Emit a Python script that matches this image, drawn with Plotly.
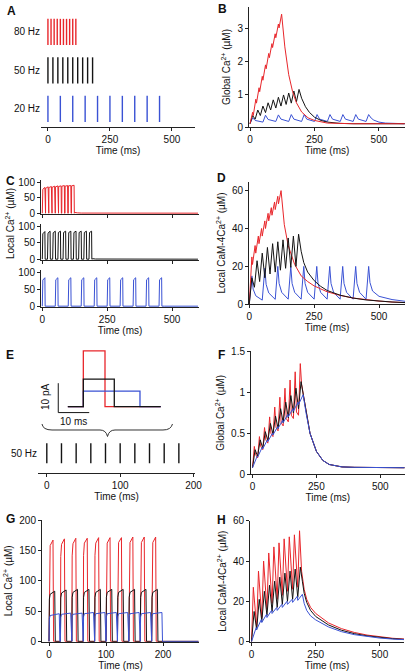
import plotly.graph_objects as go

W, H = 407, 671
FONT = "Liberation Sans, Arial, sans-serif"
RED, BLK, BLU = "#e8262b", "#141414", "#3a52d4"

# ---------------- data ----------------
T80 = [0, 12.5, 25, 37.5, 50, 62.5, 75, 87.5, 100, 112.5]
T50 = [0, 20, 40, 60, 80, 100, 120, 140, 160, 180]
T20 = [0, 50, 100, 150, 200, 250, 300, 350, 400, 450]
RATE_LABELS = ["20 Hz", "50 Hz", "80 Hz"]

# B: global Ca2+ (uM)
B_red_peak = [0.45, 0.85, 1.2, 1.55, 1.9, 2.25, 2.55, 2.85, 3.15, 3.45]
B_red_trough = [0.35, 0.73, 1.08, 1.43, 1.78, 2.12, 2.43, 2.73, 3.03]
B_red_tail_t = [135, 150, 165, 180, 200, 225, 250, 300, 400, 600]
B_red_tail_v = [2.45, 1.6, 1.08, 0.74, 0.46, 0.28, 0.2, 0.12, 0.1, 0.1]
B_blk_peak = [0.35, 0.52, 0.64, 0.74, 0.83, 0.91, 0.98, 1.04, 1.1, 1.15]
B_blk_trough = [0.24, 0.35, 0.44, 0.52, 0.58, 0.64, 0.69, 0.73, 0.77]
B_blk_tail_t = [200, 215, 230, 250, 275, 300, 350, 400, 600]
B_blk_tail_v = [0.88, 0.62, 0.45, 0.3, 0.2, 0.15, 0.11, 0.1, 0.1]
B_blu_peak = [0.28, 0.36, 0.37, 0.38, 0.38, 0.38, 0.38, 0.38, 0.38, 0.38]
B_blu_mid = [0.2, 0.23, 0.24, 0.24, 0.24, 0.24, 0.24, 0.24, 0.24]
B_blu_trough = [0.15, 0.17, 0.17, 0.17, 0.17, 0.17, 0.17, 0.17, 0.17]
B_blu_tail_t = [470, 480, 500, 525, 550, 600]
B_blu_tail_v = [0.27, 0.21, 0.15, 0.12, 0.11, 0.1]

# C: local Ca2+ (uM)
C_red_on = [78, 82, 84, 85, 86, 87, 88, 88, 89, 89]
C_red_off = [84, 86, 87, 88, 89, 89, 90, 90, 90, 91]
C_red_tail_t = [125, 135, 150, 600]
C_red_tail_v = [3, 1.8, 1, 0.7]
C_blk_on = [78, 80, 81, 82, 82, 82, 82, 82, 82, 82]
C_blk_off = [85, 86, 86, 86, 86, 86, 86, 86, 86, 86]
C_blk_tail_t = [195, 205, 600]
C_blk_tail_v = [2, 1, 0.5]
C_blu_on = [78, 79, 79, 79, 79, 79, 79, 79, 79, 79]
C_blu_off = [85, 85, 85, 85, 85, 85, 85, 85, 85, 85]
C_blu_tail_t = [470, 600]
C_blu_tail_v = [0.5, 0.5]

# D: local CaM-4Ca2+ (uM)
D_red_peak = [25, 31, 36, 40, 44, 48, 51, 54, 57, 60]
D_red_trough = [21, 27, 32, 36, 40, 44, 47, 50, 53]
D_red_tail_t = [135, 150, 175, 200, 225, 250, 300, 350, 400, 450, 500, 550, 600]
D_red_tail_v = [42, 31, 21, 15, 12, 9.7, 6.6, 4.7, 3.3, 2.4, 1.7, 1.2, 0.9]
D_blk_peak = [14, 23, 27, 30, 32, 33, 34, 35, 36, 37]
D_blk_trough = [9, 12, 14, 16, 17, 18, 19, 19.5, 20]
D_blk_tail_t = [200, 210, 225, 250, 275, 300, 350, 400, 450, 500, 550, 600]
D_blk_tail_v = [28, 22, 17, 12.5, 9.5, 7.3, 4.8, 3.3, 2.3, 1.7, 1.2, 0.9]
D_blu_peak = [15, 19, 20, 20, 20, 20, 20, 20, 20, 20]
D_blu_d5 = [8, 10.5, 11, 11, 11, 11, 11, 11, 11]
D_blu_d15 = [4.5, 6, 6.3, 6.3, 6.3, 6.3, 6.3, 6.3, 6.3]
D_blu_trough = [2.2, 2.6, 2.7, 2.7, 2.7, 2.7, 2.7, 2.7, 2.7]
D_blu_tail_t = [465, 475, 500, 550, 600]
D_blu_tail_v = [11.5, 7, 4.2, 2.5, 1.6]

# E: current pulses (pA) and 50 Hz train
E_pulse_t0, E_pulse_t1 = -5, 25
E_red_w, E_red_amp = 7, 19
E_blk_w, E_blk_amp = 10, 9.4
E_blu_w, E_blu_amp = 18.3, 5.3

# F: global Ca2+ with three pulse shapes (uM)
F_red_peak = [0.34, 0.46, 0.57, 0.7, 0.82, 0.94, 1.05, 1.15, 1.25, 1.35]
F_red_mid = [0.24, 0.34, 0.42, 0.5, 0.57, 0.63, 0.68, 0.72, 0.76]
F_red_trough = [0.2, 0.3, 0.38, 0.46, 0.53, 0.59, 0.64, 0.68, 0.72]
F_red_tail_t = [192, 200, 210, 225, 250, 275, 300, 350, 400, 600]
F_red_tail_v = [1.1, 0.95, 0.75, 0.5, 0.28, 0.17, 0.12, 0.09, 0.085, 0.08]
F_blk_peak = [0.3, 0.42, 0.52, 0.62, 0.71, 0.8, 0.88, 0.96, 1.05, 1.13]
F_blk_trough = [0.22, 0.32, 0.41, 0.49, 0.56, 0.63, 0.69, 0.75, 0.8]
F_blk_tail_t = [200, 210, 225, 250, 275, 300, 350, 400, 600]
F_blk_tail_v = [0.95, 0.76, 0.5, 0.28, 0.17, 0.12, 0.09, 0.085, 0.08]
F_blu_peak = [0.22, 0.33, 0.42, 0.5, 0.58, 0.66, 0.73, 0.8, 0.88, 0.97]
F_blu_trough = [0.21, 0.31, 0.4, 0.48, 0.56, 0.63, 0.7, 0.77, 0.85]
F_blu_tail_t = [210, 225, 250, 275, 300, 350, 400, 600]
F_blu_tail_v = [0.74, 0.5, 0.28, 0.17, 0.12, 0.09, 0.085, 0.08]
F_base = 0.08

# G: local Ca2+ with three pulse shapes (uM)
G_red_on1 = [138, 140, 141, 142, 142, 142, 142, 142, 142, 142]
G_red_on2 = [158, 160, 161, 162, 162, 162, 163, 163, 163, 163]
G_red_off = [167, 169, 170, 170, 171, 171, 171, 172, 172, 172]
G_blk_on1 = [70, 72, 73, 73, 73, 73, 73, 73, 73, 73]
G_blk_on2 = [78, 80, 81, 81, 81, 81, 81, 81, 81, 81]
G_blk_off = [83, 85, 86, 86, 86, 86, 86, 86, 86, 86]
G_blu_on1 = [38, 40, 41, 41, 41, 41, 41, 41, 41, 41]
G_blu_on2 = [43, 45, 45, 46, 46, 46, 46, 46, 46, 46]
G_blu_off = [46, 47, 47, 48, 48, 48, 48, 48, 48, 48]
G_tail_t = [205, 262]
G_tail_v = [0.5, 0.5]

# H: local CaM-4Ca2+ with three pulse shapes (uM)
H_red_peak = [27, 35, 40, 44, 47, 49, 51, 52, 53, 55]
H_red_trough = [7, 12, 16, 19, 21, 23, 25, 26, 27]
H_red_tail_t = [195, 205, 215, 230, 250, 300, 350, 400, 450, 500, 550, 600]
H_red_tail_v = [35, 26, 21, 17, 14, 9.3, 6.5, 4.6, 3.3, 2.4, 1.7, 1.3]
H_blk_peak = [15, 21, 25, 28, 30, 32, 34, 35, 36, 37]
H_blk_trough = [6, 10, 13, 15, 17, 18.5, 20, 21, 22]
H_blk_tail_t = [198, 205, 215, 230, 250, 300, 350, 400, 450, 500, 550, 600]
H_blk_tail_v = [30, 24, 19.5, 15.5, 12.5, 8.3, 5.7, 4, 2.9, 2.1, 1.5, 1.1]
H_blu_peak = [7, 11, 13.5, 15.5, 17, 18.5, 20, 21, 22.5, 23.5]
H_blu_trough = [6, 9.5, 12, 14, 15.5, 17, 18.5, 19.5, 20.5]
H_blu_tail_t = [205, 215, 230, 250, 300, 350, 400, 450, 500, 550, 600]
H_blu_tail_v = [19, 15.5, 12.8, 10.8, 7.3, 5, 3.5, 2.5, 1.8, 1.3, 1]


# ---------------- builders ----------------
def train(times, rise, start, peaks, troughs, tail_t, tail_v, after=()):
    xs, ys = [times[0]], [start]
    n = len(times)
    for i, t in enumerate(times):
        if i > 0:
            xs.append(t); ys.append(troughs[i - 1])
        xs.append(t + rise); ys.append(peaks[i])
        if i < n - 1:
            for dt, vals in after:
                xs.append(t + rise + dt); ys.append(vals[i])
    return xs + list(tail_t), ys + list(tail_v)


def pulses(times, w, on1, on2, off, tail_t, tail_v, base=0.5):
    xs, ys = [], []
    for i, t in enumerate(times):
        xs += [t, t + 0.6, t + 2, t + w, t + w + 1]
        ys += [base, on1[i], on2[i], off[i], base]
    return xs + list(tail_t), ys + list(tail_v)


def ticks(times, lo, hi):
    xs, ys = [], []
    for t in times:
        xs += [t, t, None]
        ys += [lo, hi, None]
    return xs, ys


fig = go.Figure()


def line(xy, color, xa, ya, width=1.0):
    fig.add_trace(go.Scatter(x=xy[0], y=xy[1], mode="lines",
                             line=dict(color=color, width=width),
                             xaxis=xa, yaxis=ya, hoverinfo="skip",
                             showlegend=False))


# A
line(ticks(T20, 0.66, 1.34), BLU, "x", "y", 1.4)
line(ticks(T50, 1.66, 2.34), BLK, "x", "y", 1.4)
line(ticks(T80, 2.66, 3.34), RED, "x", "y", 1.4)

# B
line(train(T20, 10, 0.1, B_blu_peak, B_blu_trough, B_blu_tail_t, B_blu_tail_v,
           after=[(10, B_blu_mid)]), BLU, "x2", "y2")
line(train(T50, 10, 0.1, B_blk_peak, B_blk_trough, B_blk_tail_t, B_blk_tail_v), BLK, "x2", "y2")
line(train(T80, 10, 0.1, B_red_peak, B_red_trough, B_red_tail_t, B_red_tail_v), RED, "x2", "y2")

# C
line(pulses(T80, 10, C_red_on, C_red_on, C_red_off, C_red_tail_t, C_red_tail_v), RED, "x3", "y3")
line(pulses(T50, 10, C_blk_on, C_blk_on, C_blk_off, C_blk_tail_t, C_blk_tail_v), BLK, "x4", "y4")
line(pulses(T20, 10, C_blu_on, C_blu_on, C_blu_off, C_blu_tail_t, C_blu_tail_v), BLU, "x5", "y5")

# D
line(train(T20, 10, 0, D_blu_peak, D_blu_trough, D_blu_tail_t, D_blu_tail_v,
           after=[(5, D_blu_d5), (15, D_blu_d15)]), BLU, "x6", "y6")
line(train(T80, 10, 0, D_red_peak, D_red_trough, D_red_tail_t, D_red_tail_v), RED, "x6", "y6")
line(train(T50, 10, 0, D_blk_peak, D_blk_trough, D_blk_tail_t, D_blk_tail_v), BLK, "x6", "y6")

# E inset (pulse shapes) and train
for w, amp, col in [(E_red_w, E_red_amp, RED), (E_blu_w, E_blu_amp, BLU), (E_blk_w, E_blk_amp, BLK)]:
    line(([E_pulse_t0, 0, 0, w, w, E_pulse_t1], [0, 0, amp, amp, 0, 0]), col, "x7", "y7", 1.3)
line(([-8.1, -8.1, 1.9], [8, -2, -2]), BLK, "x7", "y7", 1.0)
line(ticks(T50, 0.3, 0.9), BLK, "x8", "y8", 1.4)

# F
line(train(T50, 7, F_base, F_red_peak, F_red_trough, F_red_tail_t, F_red_tail_v,
           after=[(5, F_red_mid)]), RED, "x9", "y9")
line(train(T50, 10, F_base, F_blk_peak, F_blk_trough, F_blk_tail_t, F_blk_tail_v), BLK, "x9", "y9")
line(train(T50, 18, F_base, F_blu_peak, F_blu_trough, F_blu_tail_t, F_blu_tail_v), BLU, "x9", "y9")

# G
line(pulses(T50, 7, G_red_on1, G_red_on2, G_red_off, G_tail_t, G_tail_v), RED, "x10", "y10")
line(pulses(T50, 10, G_blk_on1, G_blk_on2, G_blk_off, G_tail_t, G_tail_v), BLK, "x10", "y10")
line(pulses(T50, 18, G_blu_on1, G_blu_on2, G_blu_off, G_tail_t, G_tail_v), BLU, "x10", "y10")

# H
line(train(T50, 7, 0, H_red_peak, H_red_trough, H_red_tail_t, H_red_tail_v), RED, "x11", "y11")
line(train(T50, 10, 0, H_blk_peak, H_blk_trough, H_blk_tail_t, H_blk_tail_v), BLK, "x11", "y11")
line(train(T50, 18, 0, H_blu_peak, H_blu_trough, H_blu_tail_t, H_blu_tail_v), BLU, "x11", "y11")


# ---------------- axes ----------------
def xd(a, b):
    return [a / W, b / W]


def yd(top, bottom):
    return [1 - bottom / H, 1 - top / H]


TF = dict(family=FONT, size=10, color="#111")


def xax(dom, rng, tv, anchor, title=None, labels=True, line_on=True):
    d = dict(domain=dom, range=rng, anchor=anchor, showline=line_on, linecolor="#222",
             linewidth=1, ticks="outside" if line_on else "", ticklen=3, tickcolor="#222",
             tickvals=tv, showticklabels=labels, showgrid=False, zeroline=False,
             tickfont=TF, automargin=False)
    if title:
        d["title"] = dict(text=title, font=TF, standoff=1)
    return d


def yax(dom, rng, tv, anchor, title=None, ticktext=None, line_on=True):
    d = dict(domain=dom, range=rng, anchor=anchor, showline=line_on, linecolor="#222",
             linewidth=1, ticks="outside" if line_on else "", ticklen=3, tickcolor="#222",
             tickvals=tv, showgrid=False, zeroline=False, tickfont=TF, automargin=False)
    if title:
        d["title"] = dict(text=title, font=TF, standoff=4)
    if ticktext is not None:
        d["ticktext"] = ticktext
    return d


T = "Time (ms)"
lay = {}
# A
lay["xaxis"] = xax(xd(41, 195), [-28, 593], [0, 250, 500], "y", T)
lay["yaxis"] = yax(yd(15, 127), [0.53, 3.44], [1, 2, 3], "x", None, RATE_LABELS, line_on=False)
# B
lay["xaxis2"] = xax(xd(249, 405), [-4, 601], [0, 250, 500], "y2", T)
lay["yaxis2"] = yax(yd(7, 127), [0, 3.67], [0, 1, 2, 3], "x2", "Global Ca<sup>2+</sup> (µM)")
# C
lay["xaxis3"] = xax(xd(41, 199), [-5, 604], [0, 250, 500], "y3", None, labels=False)
lay["yaxis3"] = yax(yd(180, 214), [-2, 108], [0, 50, 100], "x3")
lay["xaxis4"] = xax(xd(41, 199), [-5, 604], [0, 250, 500], "y4", None, labels=False)
lay["yaxis4"] = yax(yd(224, 260), [-2, 108], [0, 50, 100], "x4")
lay["xaxis5"] = xax(xd(41, 199), [-5, 604], [0, 250, 500], "y5", T)
lay["yaxis5"] = yax(yd(270, 307), [-2, 108], [0, 50, 100], "x5")
# D
lay["xaxis6"] = xax(xd(249, 405), [-1, 600], [0, 250, 500], "y6", T)
lay["yaxis6"] = yax(yd(181.7, 304.3), [0, 64.7], [0, 20, 40, 60], "x6", "Local CaM-4Ca<sup>2+</sup> (µM)")
# E inset
lay["xaxis7"] = dict(domain=xd(40, 170), range=[-14, 28], anchor="y7", visible=False, automargin=False)
lay["yaxis7"] = dict(domain=yd(345, 415), range=[-2.82, 21], anchor="x7", visible=False, automargin=False)
# E train
lay["xaxis8"] = xax(xd(38, 195), [-12, 202], [0, 100, 200], "y8", T)
lay["yaxis8"] = yax(yd(440, 473.3), [0, 1], [0.6], "x8", None, ["50 Hz"], line_on=False)
# F
lay["xaxis9"] = xax(xd(251, 404.5), [-6, 595], [0, 250, 500], "y9", T)
lay["yaxis9"] = yax(yd(351.3, 474.3), [0, 1.5], [0, 0.5, 1, 1.5], "x9", "Global Ca<sup>2+</sup> (µM)")
# G
lay["xaxis10"] = xax(xd(42, 199), [-12.3, 263], [0, 100, 200], "y10", T)
lay["yaxis10"] = yax(yd(520, 641.7), [0, 200], [0, 50, 100, 150, 200], "x10", "Local Ca<sup>2+</sup> (µM)")
# H
lay["xaxis11"] = xax(xd(250, 404), [-6, 594], [0, 250, 500], "y11", T)
lay["yaxis11"] = yax(yd(520.7, 641.7), [0, 60], [0, 20, 40, 60], "x11", "Local CaM-4Ca<sup>2+</sup> (µM)")

fig.update_layout(**lay)


def ann(text, x, y, size=10, bold=False, angle=0, xanchor="center"):
    fig.add_annotation(text=f"<b>{text}</b>" if bold else text, x=x / W, y=1 - y / H,
                       xref="paper", yref="paper", showarrow=False, textangle=angle,
                       xanchor=xanchor, yanchor="middle",
                       font=dict(family=FONT, size=size, color="#111"))


for L, (px, py) in zip("ABCDEFGH", [(11, 11.5), (222.5, 9), (10.3, 181), (222, 178),
                                     (10, 355), (221.7, 355), (10, 519), (222, 520)]):
    ann(L, px, py, size=12, bold=True)
ann("Local Ca<sup>2+</sup> (µM)", 10, 224, angle=-90)
ann("10 pA", 45, 397, angle=-90)
ann("10 ms", 73, 421)


# brace
def P(x, y):
    return f"{x / W:.5f},{1 - y / H:.5f}"


brace = (f"M {P(42, 424)} Q {P(43, 430)} {P(52, 430)} L {P(100, 430)} "
         f"Q {P(106, 430)} {P(107.5, 436.5)} Q {P(109, 430)} {P(115, 430)} "
         f"L {P(163, 430)} Q {P(171, 430)} {P(172.5, 424)}")
fig.add_shape(type="path", path=brace, xref="paper", yref="paper",
              line=dict(color="#333", width=1))

fig.update_layout(width=W, height=H, margin=dict(l=0, r=0, t=0, b=0, autoexpand=False),
                  plot_bgcolor="white", paper_bgcolor="white",
                  font=dict(family=FONT, size=10, color="#111"), showlegend=False)

fig.write_html("out.html", config={"displayModeBar": False},
               post_script="document.body.style.margin='0';"
                           "document.documentElement.style.overflow='hidden';")
